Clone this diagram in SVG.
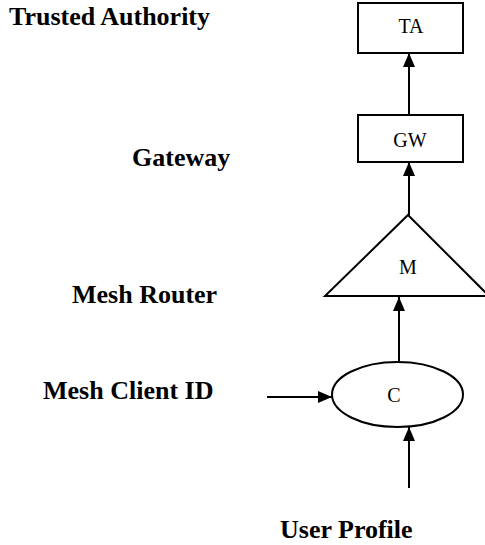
<svg xmlns="http://www.w3.org/2000/svg" width="485" height="545" viewBox="0 0 485 545">
<style>
.lbl{font-family:"Liberation Serif","Times New Roman",serif;font-weight:bold;font-size:26px;fill:#000}
.nt{font-family:"Liberation Serif","Times New Roman",serif;font-size:20px;fill:#000;text-anchor:middle}
.shape{fill:#fff;stroke:#000;stroke-width:2}
.conn{stroke:#000;stroke-width:2;fill:none;marker-end:url(#ah)}
</style>
<defs>
<marker id="ah" markerUnits="userSpaceOnUse" markerWidth="14" markerHeight="12" refX="14" refY="6" orient="auto">
<path d="M0,0 L14,6 L0,12 Z" fill="#000"/>
</marker>
</defs>
<rect width="485" height="545" fill="#fff"/>
<g id="labels">
<text class="lbl" x="9" y="25">Trusted Authority</text>
<text class="lbl" x="132" y="166">Gateway</text>
<text class="lbl" x="72" y="303">Mesh Router</text>
<text class="lbl" x="43" y="399">Mesh Client ID</text>
<text class="lbl" x="280" y="538">User Profile</text>
</g>
<g id="node-TA">
<rect class="shape" x="358" y="3" width="105" height="50"/>
<text class="nt" x="411" y="33">TA</text>
</g>
<g id="node-GW">
<rect class="shape" x="358" y="115" width="105" height="47"/>
<text class="nt" x="410" y="147">GW</text>
</g>
<g id="node-M">
<polygon class="shape" points="408,215 489,296 325,296"/>
<text class="nt" x="408" y="274">M</text>
</g>
<g id="node-C">
<ellipse class="shape" cx="397.5" cy="394.5" rx="65.5" ry="32.5"/>
<text class="nt" x="394" y="402">C</text>
</g>
<g id="connectors">
<line class="conn" x1="409" y1="115" x2="409" y2="53"/>
<line class="conn" x1="409" y1="215" x2="409" y2="162"/>
<line class="conn" x1="399" y1="362" x2="399" y2="297"/>
<line class="conn" x1="267" y1="397" x2="332" y2="397"/>
<line class="conn" x1="409" y1="488" x2="409" y2="427"/>
</g>
</svg>
